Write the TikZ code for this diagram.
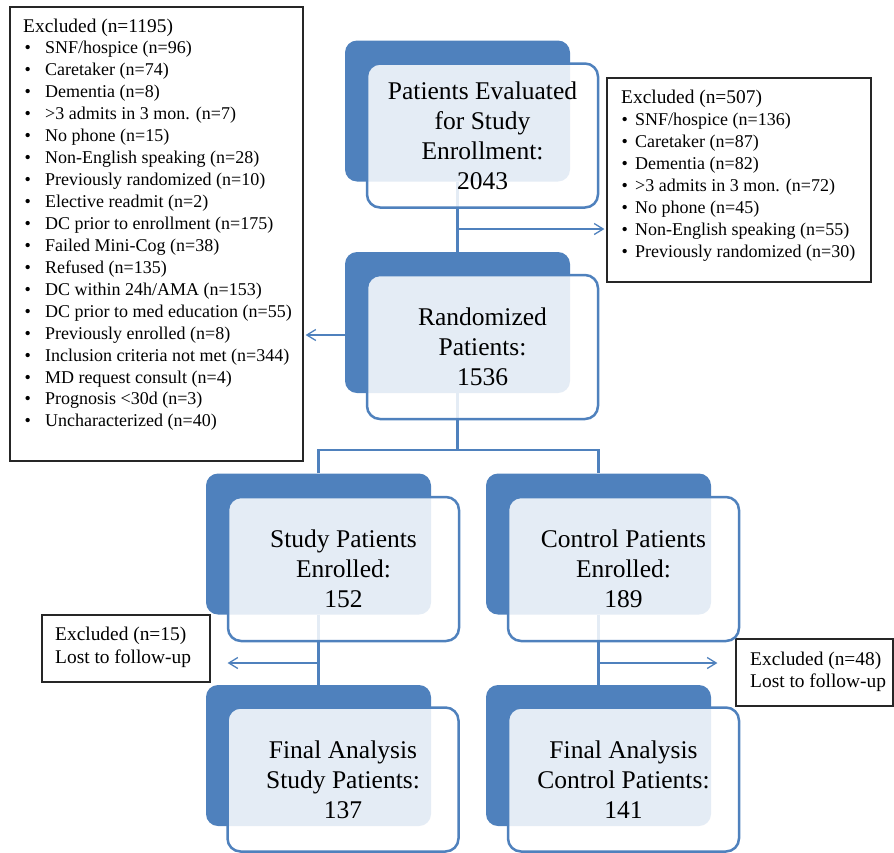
\documentclass[tikz,border=0pt]{standalone}
\usepackage{fontspec}
\setmainfont{Liberation Serif}
\usetikzlibrary{arrows.meta}
\definecolor{ofblue}{HTML}{4F81BD}
\begin{document}
\begin{tikzpicture}[x=1pt,y=-1pt,
  backbox/.style={fill=ofblue, rounded corners=12pt, minimum width=225pt, minimum height=141pt, inner sep=0pt},
  frontbox/.style={draw=ofblue, line width=2.5pt, fill=white, fill opacity=0.85, text opacity=1, rounded corners=13pt, minimum width=231pt, minimum height=144pt, align=center, font=\fontsize{25.5pt}{30pt}\selectfont, inner sep=0pt},
  exbox/.style={draw=black!85, line width=1.2pt, inner sep=0pt},
  extext/.style={anchor=base west, inner sep=0pt, font=\fontsize{19.4pt}{22pt}\selectfont},
  exitem/.style={anchor=base west, inner sep=0pt, font=\fontsize{18pt}{22pt}\selectfont},
  conn/.style={draw=ofblue, line width=2.4pt},
  thinarr/.style={draw=ofblue, line width=1.3pt, -{Straight Barb[length=9pt,width=11pt,line width=1.3pt]}},
]
\useasboundingbox (0,0) rectangle (894,852);

% exclusion boxes
\node[exbox, minimum width=293pt, minimum height=454pt] (exL) at (156.5,234) {};
\node[exbox, minimum width=264pt, minimum height=204pt] (exR) at (739,180) {};
\node[exbox, minimum width=168pt, minimum height=67pt] (exSL) at (126,648.5) {};
\node[exbox, minimum width=157pt, minimum height=67pt] (exSR) at (814.5,672.5) {};

\node[extext] (exLh) at (23,32) {Excluded (n=1195)};
\foreach \t [count=\i] in {{SNF/hospice (n=96)},{Caretaker (n=74)},{Dementia (n=8)},{>3 admits in 3 mon. (n=7)},{No phone (n=15)},{Non-English speaking (n=28)},{Previously randomized (n=10)},{Elective readmit (n=2)},{DC prior to enrollment (n=175)},{Failed Mini-Cog (n=38)},{Refused (n=135)},{DC within 24h/AMA (n=153)},{DC prior to med education (n=55)},{Previously enrolled (n=8)},{Inclusion criteria not met (n=344)},{MD request consult (n=4)},{Prognosis <30d (n=3)},{Uncharacterized (n=40)}}
  \node[exitem] (exL\i) at (24.5,32+21.94*\i) {\makebox[20.5pt][l]{•}\t};

\node[extext] (exRh) at (621,103) {Excluded (n=507)};
\foreach \t [count=\i] in {{SNF/hospice (n=136)},{Caretaker (n=87)},{Dementia (n=82)},{>3 admits in 3 mon. (n=72)},{No phone (n=45)},{Non-English speaking (n=55)},{Previously randomized (n=30)}}
  \node[exitem] (exR\i) at (621.5,103+22.1*\i) {\makebox[13.5pt][l]{•}\t};

\node[extext] (exSL1) at (55,640) {Excluded (n=15)};
\node[extext] (exSL2) at (55,663) {Lost to follow-up};
\node[extext] (exSR1) at (750,665) {Excluded (n=48)};
\node[extext] (exSR2) at (750,687.5) {Lost to follow-up};

% back boxes
\node[backbox] (b1) at (457.5,111) {};
\node[backbox] (b2) at (457.5,322.5) {};
\node[backbox] (b3) at (318.5,544) {};
\node[backbox] (b4) at (598.5,544) {};
\node[backbox] (b5) at (318.5,755.5) {};
\node[backbox] (b6) at (598.5,755.5) {};

% connectors
\coordinate (j1) at (457.5,229);
\coordinate (j2) at (345,335);
\coordinate (split) at (457.5,450);
\coordinate (j3) at (318.5,663);
\coordinate (j4) at (598.5,663);
\draw[conn] (b1.south) -- (b2.north);
\draw[thinarr, shorten >=2pt] (j1) -- (j1 -| exR.west);
\draw[thinarr, shorten >=2pt] (j2) -- (j2 -| exL.east);
\draw[conn] (b2.south) -- (split);
\draw[conn] (b3.north) |- (split) -| (b4.north);
\draw[conn] (b3.south) -- (b5.north);
\draw[conn] (b4.south) -- (b6.north);
\draw[thinarr, shorten >=17pt] (j3) -- (j3 -| exSL.east);
\draw[thinarr, shorten >=18pt] (j4) -- (j4 -| exSR.west);

% front boxes
\node[frontbox] (f1) at (482.5,135.5) {Patients Evaluated\\for Study\\Enrollment:\\2043};
\node[frontbox] (f2) at (482.5,347) {Randomized\\Patients:\\1536};
\node[frontbox] (f3) at (343.5,569) {Study Patients\\Enrolled:\\152};
\node[frontbox] (f4) at (623.5,569) {Control Patients\\Enrolled:\\189};
\node[frontbox] (f5) at (343,779.5) {Final Analysis\\Study Patients:\\137};
\node[frontbox] (f6) at (623.5,779.5) {Final Analysis\\Control Patients:\\141};
\end{tikzpicture}
\end{document}
